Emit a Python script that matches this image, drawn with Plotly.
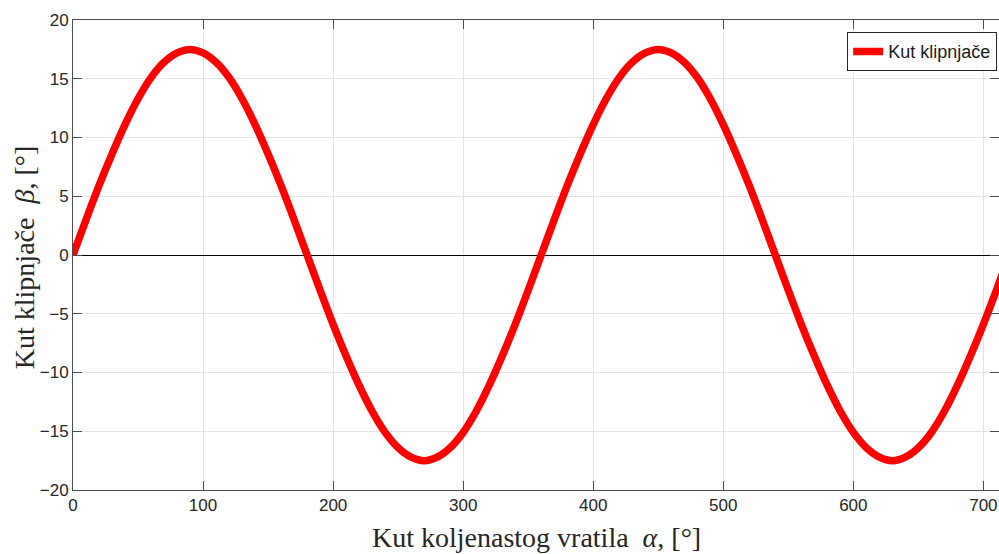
import plotly.graph_objects as go

alpha_deg = [0, 10, 20, 30, 40, 50, 60, 70, 80, 90, 100, 110, 120, 130, 140, 150, 160, 170,
             180, 190, 200, 210, 220, 230, 240, 250, 260, 270, 280, 290, 300, 310, 320, 330, 340, 350,
             360, 370, 380, 390, 400, 410, 420, 430, 440, 450, 460, 470, 480, 490, 500, 510, 520, 530,
             540, 550, 560, 570, 580, 590, 600, 610, 620, 630, 640, 650, 660, 670, 680, 690, 700, 710, 720]
beta_deg = [0.0, 3.0, 5.9, 8.6, 11.1, 13.3, 15.1, 16.4, 17.2, 17.5, 17.2, 16.4, 15.1, 13.3, 11.1, 8.6, 5.9, 3.0,
            0.0, -3.0, -5.9, -8.6, -11.1, -13.3, -15.1, -16.4, -17.2, -17.5, -17.2, -16.4, -15.1, -13.3, -11.1, -8.6, -5.9, -3.0,
            0.0, 3.0, 5.9, 8.6, 11.1, 13.3, 15.1, 16.4, 17.2, 17.5, 17.2, 16.4, 15.1, 13.3, 11.1, 8.6, 5.9, 3.0,
            0.0, -3.0, -5.9, -8.6, -11.1, -13.3, -15.1, -16.4, -17.2, -17.5, -17.2, -16.4, -15.1, -13.3, -11.1, -8.6, -5.9, -3.0,
            0.0]

x_ticks = [0, 100, 200, 300, 400, 500, 600, 700]
y_ticks = [-20, -15, -10, -5, 0, 5, 10, 15, 20]

axis_col = "#4d4d4d"
grid_col = "#e3e3e3"
tick_font = dict(family="Liberation Sans, Arial", size=17, color="#262626")

fig = go.Figure()
fig.add_trace(go.Scatter(
    x=alpha_deg, y=beta_deg, mode="lines", name="Kut klipnjače",
    line=dict(color="#ff0000", width=7.5, shape="spline"),
))

fig.update_layout(
    width=999, height=554,
    margin=dict(l=73, r=0, t=20, b=64),
    paper_bgcolor="white", plot_bgcolor="white",
    showlegend=True,
    legend=dict(
        x=0.998, y=0.974, xanchor="right", yanchor="top",
        bgcolor="white", bordercolor="#262626", borderwidth=1,
        font=dict(family="Liberation Sans, Arial", size=18, color="#1a1a1a"),
        itemwidth=30, tracegroupgap=0,
    ),
    xaxis=dict(
        range=[0, 712], tickvals=x_ticks, ticks="inside", ticklen=9, tickcolor=axis_col,
        showline=True, linecolor=axis_col, linewidth=1, mirror="ticks",
        showgrid=True, gridcolor=grid_col, gridwidth=1, zeroline=False,
        tickfont=tick_font,
    ),
    yaxis=dict(
        range=[-20, 20], tickvals=y_ticks, ticks="inside", ticklen=9, tickcolor=axis_col,
        showline=True, linecolor=axis_col, linewidth=1, mirror="ticks",
        showgrid=True, gridcolor=grid_col, gridwidth=1,
        zeroline=True, zerolinecolor="#000000", zerolinewidth=1,
        tickfont=tick_font,
    ),
    annotations=[
        dict(text="Kut koljenastog vratila  <i>α</i>, [°]", xref="paper", yref="paper",
             x=0.5, y=-0.102, xanchor="center", yanchor="middle", showarrow=False,
             font=dict(family="Liberation Serif, Times New Roman", size=28, color="#262626")),
        dict(text="Kut klipnjače  <i>β</i>, [°]", xref="paper", yref="paper",
             x=-0.052, y=0.495, xanchor="center", yanchor="middle", showarrow=False, textangle=-90,
             font=dict(family="Liberation Serif, Times New Roman", size=28, color="#262626")),
    ],
)

fig.write_html(
    "out.html",
    config={"displayModeBar": False},
    post_script="document.body.style.margin='0px'; document.body.style.overflow='hidden';",
)
